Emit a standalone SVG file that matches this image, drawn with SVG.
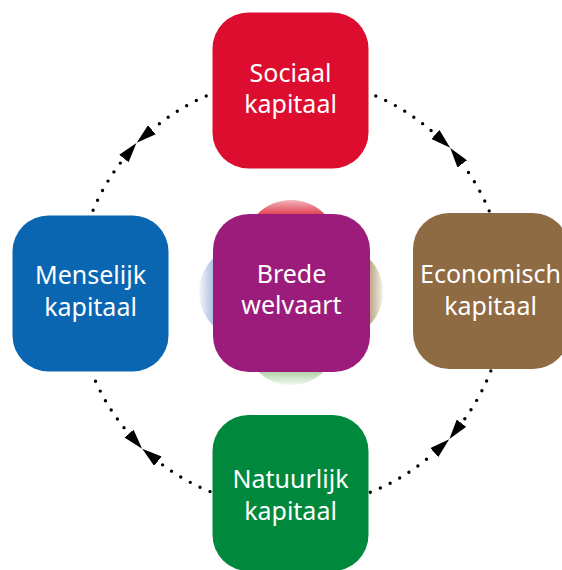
<svg xmlns="http://www.w3.org/2000/svg" width="562" height="570" viewBox="0 0 562 570">
  <style>
    .box { stroke: none; }
    .lbl { font-family: "Noto Sans", "Open Sans", "Liberation Sans", sans-serif; font-size: 25px; fill: #ffffff; text-anchor: middle; }
    .dots { fill: none; stroke: #000000; stroke-width: 3.4; stroke-linecap: round; stroke-dasharray: 0 10.9; marker-end: url(#tri); }
  </style>
  <defs>
    <marker id="tri" viewBox="0 -6 20 12" markerWidth="20" markerHeight="12" refX="0" refY="0" orient="auto" markerUnits="userSpaceOnUse">
      <path d="M0,-6 L20,0 L0,6 Z" fill="#000000"/>
    </marker>
    <linearGradient id="gTop" x1="0" y1="0" x2="0" y2="1">
      <stop offset="0" stop-color="#f2b4bb"/>
      <stop offset="0.16" stop-color="#e03c4e"/>
    </linearGradient>
    <linearGradient id="gLeft" x1="0" y1="0" x2="1" y2="0">
      <stop offset="0" stop-color="#f4f6fb"/>
      <stop offset="0.16" stop-color="#a9bce0"/>
    </linearGradient>
    <linearGradient id="gRight" x1="0" y1="0" x2="1" y2="0">
      <stop offset="0.84" stop-color="#b39a78"/>
      <stop offset="1" stop-color="#f6f2ec"/>
    </linearGradient>
    <linearGradient id="gBottom" x1="0" y1="0" x2="0" y2="1">
      <stop offset="0.84" stop-color="#a6cf9f"/>
      <stop offset="1" stop-color="#f2f8f1"/>
    </linearGradient>
  </defs>
  <rect x="0" y="0" width="562" height="570" fill="#ffffff"/>

  <g id="connectors">
    <path class="dots" d="M206.2,96.0 A214.5,214.5 0 0 0 151.9,129.8"/>
    <path class="dots" d="M93.1,210.2 A214.5,214.5 0 0 1 123.9,158.5"/>
    <path class="dots" d="M375.8,96.0 A214.5,214.5 0 0 1 435.4,134.4"/>
    <path class="dots" d="M489.2,210.9 A214.5,214.5 0 0 0 462.3,163.9"/>
    <path class="dots" d="M490.8,370.9 A214.5,214.5 0 0 1 461.5,423.2"/>
    <path class="dots" d="M370.3,492.3 A214.5,214.5 0 0 0 434.3,452.6"/>
    <path class="dots" d="M95.5,381.3 A214.5,214.5 0 0 0 129.0,433.6"/>
    <path class="dots" d="M210.0,491.6 A214.5,214.5 0 0 1 157.9,461.2"/>
  </g>

  <g id="sociaal">
    <rect class="box" x="212.5" y="12.5" width="156" height="156" rx="36" fill="#dc0d2f"/>
    <text class="lbl" x="290.5" y="82">Sociaal</text>
    <text class="lbl" x="290.5" y="113">kapitaal</text>
  </g>

  <g id="menselijk">
    <rect class="box" x="12.5" y="215.5" width="156" height="156" rx="36" fill="#0a66b0"/>
    <text class="lbl" x="90.5" y="284">Menselijk</text>
    <text class="lbl" x="90.5" y="316">kapitaal</text>
  </g>

  <g id="economisch">
    <rect class="box" x="413" y="213" width="156" height="156" rx="36" fill="#8f6b43"/>
    <text class="lbl" x="490.5" y="283">Economisch</text>
    <text class="lbl" x="490.5" y="314.5">kapitaal</text>
  </g>

  <g id="natuurlijk">
    <rect class="box" x="212.5" y="415" width="156" height="156" rx="36" fill="#00893c"/>
    <text class="lbl" x="290.5" y="488">Natuurlijk</text>
    <text class="lbl" x="290.5" y="519.5">kapitaal</text>
  </g>

  <g id="brede-welvaart">
    <circle cx="291" cy="247" r="47" fill="url(#gTop)"/>
    <circle cx="246" cy="292" r="47" fill="url(#gLeft)"/>
    <circle cx="336" cy="292" r="47" fill="url(#gRight)"/>
    <circle cx="291" cy="338" r="47" fill="url(#gBottom)"/>
    <rect class="box" x="213" y="214" width="157" height="158" rx="36" fill="#9c1c7c"/>
    <text class="lbl" x="291.5" y="283">Brede</text>
    <text class="lbl" x="291.5" y="314">welvaart</text>
  </g>
</svg>
